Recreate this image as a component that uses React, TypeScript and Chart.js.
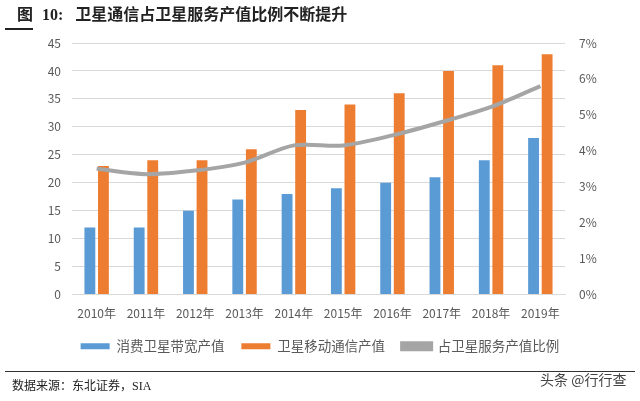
import React, { useEffect, useRef } from "react";
import { Chart, registerables } from "chart.js";

Chart.register(...registerables);

const categories = ["2010年", "2011年", "2012年", "2013年", "2014年", "2015年", "2016年", "2017年", "2018年", "2019年"];
const broadbandValues = [12, 12, 15, 17, 18, 19, 20, 21, 24, 28];
const mobileValues = [23, 24, 24, 26, 33, 34, 36, 40, 41, 43];
const shareValues = [0.035, 0.0335, 0.0345, 0.0367, 0.0415, 0.0415, 0.0443, 0.048, 0.0522, 0.058];
const leftTicks = [0, 5, 10, 15, 20, 25, 30, 35, 40, 45];
const rightTicks = [0, 0.01, 0.02, 0.03, 0.04, 0.05, 0.06, 0.07];
const seriesNames = ["消费卫星带宽产值", "卫星移动通信产值", "占卫星服务产值比例"];

const FONT = "'Noto Sans CJK SC', 'Noto Sans', sans-serif";

export default function App() {
  const ref = useRef<HTMLCanvasElement | null>(null);

  useEffect(() => {
    document.body.style.margin = "0";
    const canvas = ref.current;
    if (!canvas) return;
    const chart = new Chart(canvas, {
      data: {
        labels: categories,
        datasets: [
          {
            type: "bar",
            label: seriesNames[0],
            data: broadbandValues,
            backgroundColor: "#5B9BD5",
            yAxisID: "y",
            order: 2,
            categoryPercentage: 0.55,
            barPercentage: 0.8,
          },
          {
            type: "bar",
            label: seriesNames[1],
            data: mobileValues,
            backgroundColor: "#ED7D31",
            yAxisID: "y",
            order: 2,
            categoryPercentage: 0.55,
            barPercentage: 0.8,
          },
          {
            type: "line",
            label: seriesNames[2],
            data: shareValues,
            borderColor: "#A5A5A5",
            backgroundColor: "#A5A5A5",
            borderWidth: 4,
            pointRadius: 0,
            tension: 0.3,
            yAxisID: "y1",
            order: 0,
          },
        ],
      } as any,
      options: {
        animation: false,
        responsive: false,
        layout: { padding: { top: 43, bottom: 38, left: 0, right: 0 } },
        plugins: {
          tooltip: { enabled: false },
          legend: {
            position: "bottom",
            labels: {
              boxWidth: 29,
              boxHeight: 6,
              padding: 17,
              color: "#595959",
              font: { family: FONT, size: 13.5 },
              sort: (a: any, b: any) => a.datasetIndex - b.datasetIndex,
            },
          },
        },
        scales: {
          x: {
            grid: { display: false },
            border: { display: true, color: "#D9D9D9" },
            ticks: { color: "#595959", font: { family: FONT, size: 12 }, padding: 4, maxRotation: 0 },
            afterFit: (s: any) => { s.height = 28; },
          },
          y: {
            position: "left",
            min: 0,
            max: 45,
            afterBuildTicks: (s: any) => { s.ticks = leftTicks.map((v) => ({ value: v })); },
            grid: { color: "#D9D9D9", drawTicks: false },
            border: { display: false },
            ticks: { color: "#595959", font: { family: FONT, size: 12 }, padding: 11 },
            afterFit: (s: any) => { s.width = 72; },
          },
          y1: {
            position: "right",
            min: 0,
            max: 0.07,
            afterBuildTicks: (s: any) => { s.ticks = rightTicks.map((v) => ({ value: v })); },
            grid: { display: false },
            border: { display: false },
            ticks: {
              color: "#595959",
              font: { family: FONT, size: 12 },
              padding: 6,
              callback: (v: any) => Math.round(Number(v) * 100) + "%",
            },
            afterFit: (s: any) => { s.width = 75; },
          },
        },
      } as any,
    });
    return () => chart.destroy();
  }, []);

  return (
    <div style={{ position: "relative", width: 640, height: 401, background: "#fff", overflow: "hidden" }}>
      <canvas ref={ref} width={640} height={401} style={{ position: "absolute", left: 0, top: 0 }} />
      <div
        style={{
          position: "absolute",
          left: 17,
          top: 4,
          fontFamily: "'Liberation Serif', 'Noto Sans CJK SC', serif",
          fontWeight: "bold",
          fontSize: 16,
          color: "#222",
          whiteSpace: "nowrap",
          lineHeight: "22px",
        }}
      >
        <span>图</span>
        <span style={{ marginLeft: 9 }}>10:</span>
        <span style={{ marginLeft: 12 }}>卫星通信占卫星服务产值比例不断提升</span>
      </div>
      <div style={{ position: "absolute", left: 5, top: 28, width: 28, height: 2, background: "#222" }} />
      <div style={{ position: "absolute", left: 5, top: 371, width: 630, height: 1, background: "#333" }} />
      <div
        style={{
          position: "absolute",
          left: 12,
          top: 377,
          fontFamily: "'Liberation Serif', 'Noto Sans CJK SC', serif",
          fontSize: 12,
          color: "#222",
          whiteSpace: "nowrap",
          lineHeight: "18px",
        }}
      >
        数据来源：东北证券，SIA
      </div>
      <div
        style={{
          position: "absolute",
          left: 540,
          top: 369,
          fontFamily: FONT,
          fontSize: 14,
          color: "#444",
          whiteSpace: "nowrap",
          lineHeight: "20px",
        }}
      >
        头条 @行行查
      </div>
    </div>
  );
}
